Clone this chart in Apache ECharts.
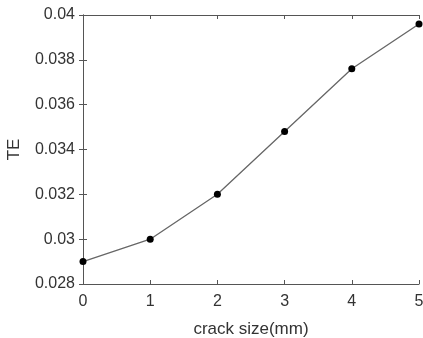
<!DOCTYPE html>
<html>
<head>
<meta charset="utf-8">
<script src="https://cdn.jsdelivr.net/npm/echarts@6/dist/echarts.min.js"></script>
</head>
<body style="margin:0">
<div id="chart" style="width:423px;height:338px"></div>
<script>
var crackSize = [0, 1, 2, 3, 4, 5];
var teValues = [0.029, 0.030, 0.032, 0.0348, 0.0376, 0.0396];

var font = 'Liberation Sans, Arial, sans-serif';
var axisColor = '#555';
var chart = echarts.init(document.getElementById('chart'));

var points = crackSize.map(function (x, i) { return [x, teValues[i]]; });

function xAxisBase(pos, showLabel) {
  return {
    type: 'value', position: pos, min: 0, max: 5, interval: 1,
    axisLine: { show: true, lineStyle: { color: axisColor, width: 1 } },
    axisTick: { show: true, inside: true, length: 4, lineStyle: { color: axisColor } },
    axisLabel: { show: showLabel, color: '#333', fontSize: 16, fontFamily: font, margin: 10 },
    splitLine: { show: false }
  };
}
function yAxisBase(pos, showLabel) {
  return {
    type: 'value', position: pos, min: 0.028, max: 0.04, interval: 0.002,
    axisLine: { show: true, lineStyle: { color: axisColor, width: 1 } },
    axisTick: { show: true, inside: true, length: 4, lineStyle: { color: axisColor } },
    axisLabel: {
      show: showLabel, color: '#333', fontSize: 16, fontFamily: font, margin: 8,
      formatter: function (v) { return String(parseFloat(v.toFixed(4))); }
    },
    splitLine: { show: false }
  };
}

var xBottom = xAxisBase('bottom', true);
xBottom.name = 'crack size(mm)';
xBottom.nameLocation = 'middle';
xBottom.nameGap = 37;
xBottom.nameTextStyle = { color: '#333', fontSize: 17, fontFamily: font };

var yLeft = yAxisBase('left', true);
yLeft.name = 'TE';
yLeft.nameLocation = 'middle';
yLeft.nameGap = 60;
yLeft.nameRotate = 90;
yLeft.nameTextStyle = { color: '#333', fontSize: 17, fontFamily: font };

var option = {
  animation: false,
  backgroundColor: '#fff',
  grid: { left: 83, right: 4, top: 15, bottom: 54, outerBoundsMode: 'none', containLabel: false },
  xAxis: [xBottom, xAxisBase('top', false)],
  yAxis: [yLeft, yAxisBase('right', false)],
  series: [{
    type: 'line',
    data: points,
    xAxisIndex: 0,
    yAxisIndex: 0,
    symbol: 'circle',
    symbolSize: 7,
    itemStyle: { color: '#000' },
    lineStyle: { color: '#666', width: 1.3 }
  }]
};
chart.setOption(option);
</script>
</body>
</html>
